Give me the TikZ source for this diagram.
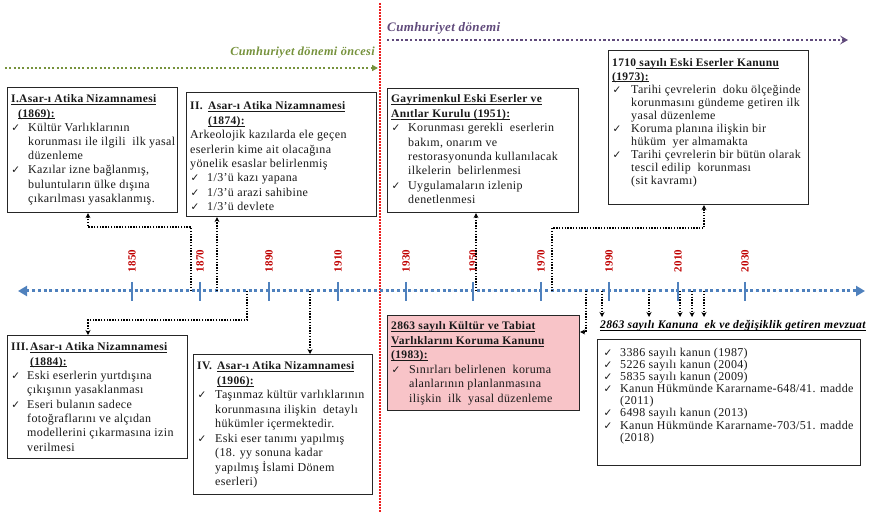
\documentclass[tikz,border=0pt]{standalone}
\usepackage{fontspec}
\setmainfont{Liberation Serif}[LetterSpace=3]
\newfontfamily\ckfont{DejaVu Sans}
\usetikzlibrary{arrows.meta}
\definecolor{tlblue}{RGB}{79,129,189}
\definecolor{yearred}{RGB}{192,0,0}
\definecolor{olivegr}{RGB}{118,146,60}
\definecolor{purp}{RGB}{96,74,123}
\definecolor{pinkfill}{RGB}{248,196,200}
\definecolor{redline}{RGB}{235,30,30}
\newlength\hg
\setlength\hg{17pt}
\newcommand\ckm{\makebox[\hg][l]{\hspace{0.3pt}{\ckfont\fontsize{10.5pt}{10.5pt}\selectfont ✓}}}
\newcommand\cl{\hspace*{\hg}}
\newcommand\uln[1]{\underline{\smash{#1}}}
\newcommand\ttl[1]{{\fontsize{11.5pt}{11.5pt}\selectfont\bfseries #1}}
\newcommand\bxt[2]{\begin{minipage}[t]{320pt}\fontsize{12pt}{#1pt}\selectfont\raggedright #2\end{minipage}}
\tikzset{
  box/.style={draw=black!85, line width=1.1pt, fill=white, inner sep=0pt, anchor=north west},
  txt/.style={inner sep=0pt, anchor=base west, text=black!90},
  conn/.style={line width=1.4pt, dash pattern=on 1.4pt off 1.4pt, -{Stealth[length=5pt,width=5pt]}},
  yr/.style={rotate=90, text=yearred, inner sep=0pt, font=\bfseries\fontsize{11pt}{11pt}\selectfont},
  tickmark/.style={draw=tlblue, line width=1.2pt},
  tl/.style={draw=tlblue, line width=3pt, dash pattern=on 3pt off 2.7pt, {Triangle[length=9pt,width=10pt]}-{Triangle[length=9pt,width=10pt]}}
}
\begin{document}
\begin{tikzpicture}[x=1pt,y=-1pt]
\useasboundingbox (0,0) rectangle (871,513);
% era divider
\coordinate (rtop) at (380,3);
\coordinate (rbot) at (380,513);
\draw[redline, line width=1.6pt, dash pattern=on 1.6pt off 1.4pt] (rtop) -- (rbot);
% era arrows
\coordinate (gA) at (5,68); \coordinate (gB) at (378,68);
\draw[olivegr, line width=2pt, dash pattern=on 2pt off 2.3pt, -{Triangle[length=6pt,width=6pt]}] (gA) -- (gB);
\node[anchor=base east, inner sep=0pt, text=olivegr, font=\bfseries\itshape\fontsize{12.3pt}{12.3pt}\selectfont] (lblpre) at (375,56) {Cumhuriyet dönemi öncesi};
\coordinate (pA) at (387,40); \coordinate (pB) at (848,40);
\draw[purp, line width=2.4pt, dash pattern=on 2.4pt off 2.2pt, -{Stealth[length=8pt,width=9pt,inset=3.5pt]}] (pA) -- (pB);
\node[anchor=base west, inner sep=0pt, text=purp, font=\bfseries\itshape\fontsize{13pt}{13pt}\selectfont] (lblcum) at (387,32) {Cumhuriyet dönemi};
% timeline
\coordinate (tlL) at (18,291); \coordinate (tlR) at (865,291);
\draw[tl] (tlL) -- (tlR);
\foreach \x/\yy in {132/1850,200/1870,269/1890,338/1910,406/1930,473/1950,541/1970,609/1990,678/2010,745/2030}{
  \draw[tickmark] (\x,282) -- (\x,301);
  \node[yr] (y\yy) at (\x,261) {\yy};
}
% boxes
\node[box, minimum width=170pt, minimum height=125pt] (b1) at (7,87) {};
\node[txt] (t1txt) at (11,103) {\bxt{14.2}{%
\ttl{\uln{I.Asar-ı Atika Nizamnamesi}}\\
\hspace*{7pt}\ttl{\uln{(1869):}}\\
\ckm Kültür Varlıklarının\\
\cl korunması ile ilgili\ \ ilk yasal\\
\cl düzenleme\\
\ckm Kazılar izne bağlanmış,\\
\cl buluntuların ülke dışına\\
\cl çıkarılması yasaklanmış.}};

\node[box, minimum width=190pt, minimum height=124pt] (b2) at (186,92) {};
\node[txt] (t2txt) at (190,110) {\bxt{14.4}{%
\ttl{\makebox[18pt][l]{II.}\uln{Asar-ı Atika Nizamnamesi}}\\
\hspace*{18pt}\ttl{\uln{(1874):}}\\
Arkeolojik kazılarda ele geçen\\
eserlerin kime ait olacağına\\
yönelik esaslar belirlenmiş\\
\ckm 1/3’ü kazı yapana\\
\ckm 1/3’ü arazi sahibine\\
\ckm 1/3’ü devlete}};

\node[box, minimum width=191pt, minimum height=124pt] (b51) at (387,88) {};
\node[txt] (t51txt) at (391,103) {\bxt{14.4}{%
\ttl{\uln{Gayrimenkul Eski Eserler ve}}\\
\ttl{\uln{Anıtlar Kurulu (1951):}}\\
\ckm Korunması gerekli\ \ eserlerin\\
\cl bakım, onarım ve\\
\cl restorasyonunda kullanılacak\\
\cl ilkelerin\ \ belirlenmesi\\
\ckm Uygulamaların izlenip\\
\cl denetlenmesi}};

\node[box, minimum width=200pt, minimum height=154pt] (b73) at (608,50) {};
\node[txt] (t73txt) at (612,67) {\setlength\hg{19pt}\bxt{13.1}{%
\ttl{1710\uln{ sayılı Eski Eserler Kanunu}}\\
\ttl{\uln{(1973):}}\\
\ckm Tarihi çevrelerin\ \ doku ölçeğinde\\
\cl korunmasını gündeme getiren ilk\\
\cl yasal düzenleme\\
\ckm Koruma planına ilişkin bir\\
\cl hüküm\ \ yer almamakta\\
\ckm Tarihi çevrelerin bir bütün olarak\\
\cl tescil edilip\ \ korunması\\
\cl (sit kavramı)}};

\node[box, minimum width=180pt, minimum height=123pt] (b3) at (7,335) {};
\node[txt] (t3txt) at (11,351) {\setlength\hg{16pt}\bxt{14.3}{%
\ttl{\makebox[19pt][l]{III.}\uln{Asar-ı Atika Nizamnamesi}}\\
\hspace*{19pt}\ttl{\uln{(1884):}}\\
\ckm Eski eserlerin yurtdışına\\
\cl çıkışının yasaklanması\\
\ckm Eseri bulanın sadece\\
\cl fotoğraflarını ve alçıdan\\
\cl modellerini çıkarmasına izin\\
\cl verilmesi}};

\node[box, minimum width=179pt, minimum height=140pt] (b4) at (193,354) {};
\node[txt] (t4txt) at (197,370) {\setlength\hg{18pt}\bxt{14.5}{%
\ttl{\makebox[20pt][l]{IV.}\uln{Asar-ı Atika Nizamnamesi}}\\
\hspace*{20pt}\ttl{\uln{(1906):}}\\
\ckm Taşınmaz kültür varlıklarının\\
\cl korunmasına ilişkin\ \ detaylı\\
\cl hükümler içermektedir.\\
\ckm Eski eser tanımı yapılmış\\
\cl (18. yy sonuna kadar\\
\cl yapılmış İslami Dönem\\
\cl eserleri)}};

\node[box, fill=pinkfill, minimum width=192pt, minimum height=95pt] (b83) at (387,315) {};
\node[txt] (t83txt) at (391,330) {\setlength\hg{18pt}\bxt{14.5}{%
\ttl{\uln{2863 sayılı Kültür ve Tabiat}}\\
\ttl{\uln{Varlıklarını Koruma Kanunu}}\\
\ttl{\uln{(1983):}}\\
\ckm Sınırları belirlenen\ \ koruma\\
\cl alanlarının planlanmasına\\
\cl ilişkin\ \ ilk\ \ yasal düzenleme}};

\node[anchor=base west, inner sep=0pt, font=\bfseries\itshape\fontsize{11.6pt}{11.6pt}\selectfont] (lblmev) at (600,329) {\uln{2863 sayılı Kanuna\ \ ek ve değişiklik getiren mevzuat}};

\node[box, minimum width=263pt, minimum height=126pt] (bm) at (597,339) {};
\node[txt] (tmtxt) at (603,356) {\bxt{12.2}{%
\ckm 3386 sayılı kanun (1987)\\
\ckm 5226 sayılı kanun (2004)\\
\ckm 5835 sayılı kanun (2009)\\
\ckm Kanun Hükmünde Kararname-648/41. madde\\
\cl (2011)\\
\ckm 6498 sayılı kanun (2013)\\
\ckm Kanun Hükmünde Kararname-703/51. madde\\
\cl (2018)}};

% connectors
\coordinate (s1) at (191,291); \coordinate (k1) at (88,227);
\draw[conn] (s1) |- (k1) -- (k1 |- b1.south);
\coordinate (s2) at (217,291);
\draw[conn] (s2) -- (s2 |- b2.south);
\coordinate (s3) at (247,291); \coordinate (k3) at (88,320);
\draw[conn] (s3) |- (k3) -- (k3 |- b3.north);
\coordinate (s4) at (310,291);
\draw[conn] (s4) -- (s4 |- b4.north);
\coordinate (s51) at (476,291);
\draw[conn] (s51) -- (s51 |- b51.south);
\coordinate (s73) at (552,291); \coordinate (k73) at (704,228);
\draw[conn] (s73) |- (k73) -- (k73 |- b73.south);
\coordinate (s83) at (586,291); \coordinate (k83) at (586,332);
\draw[conn] (s83) -- (k83) -- (k83 -| b83.east);
\foreach \x [count=\i] in {602,649,680,692,704}{
  \coordinate (sm\i) at (\x,291);
  \coordinate (em\i) at (\x,317);
  \draw[conn] (sm\i) -- (em\i);
}
\end{tikzpicture}
\end{document}
